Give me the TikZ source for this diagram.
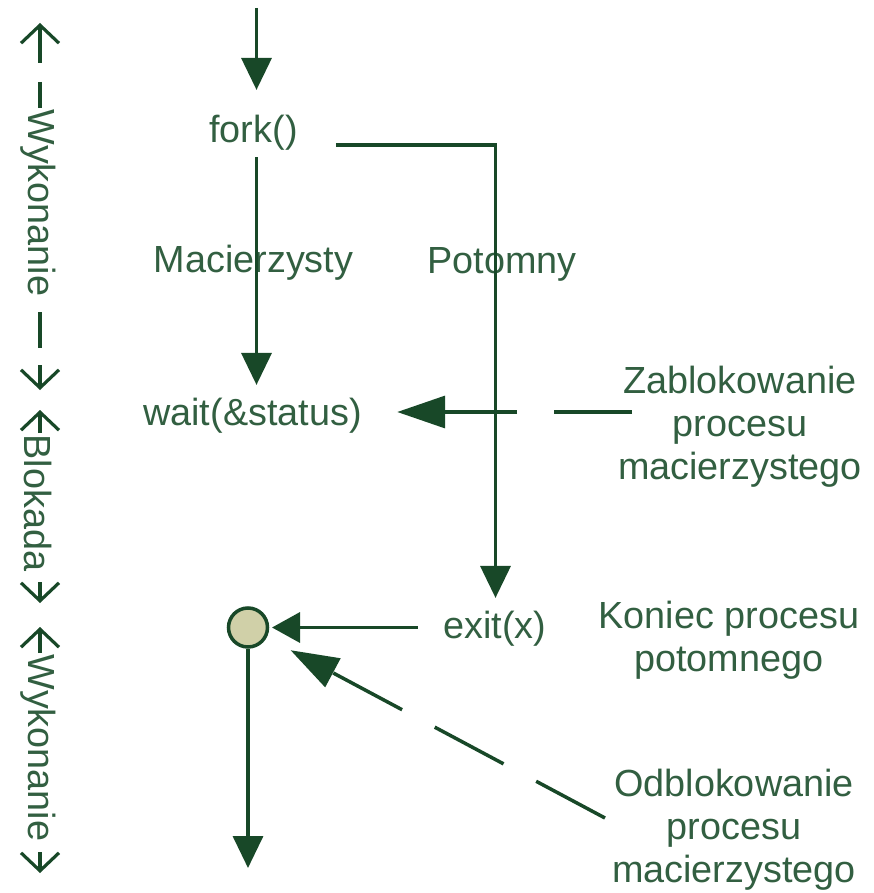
\documentclass[tikz,border=0pt]{standalone}
\usepackage{fontspec}
\setmainfont{Liberation Sans}
\usetikzlibrary{arrows.meta}
\definecolor{ink}{RGB}{24,72,40}
\definecolor{label}{RGB}{50,95,65}
\definecolor{joinfill}{RGB}{208,208,168}
\begin{document}
\begin{tikzpicture}[x=1pt,y=-1pt,
  txt/.style={font=\fontsize{37.8}{44}\selectfont, text=label, inner sep=0pt, anchor=base},
  sidetxt/.style={font=\fontsize{37.8}{44}\selectfont, text=label, inner sep=0pt, rotate=-90},
  conn/.style={draw=ink, line width=3.5pt},
  vtip/.style={-{Triangle[length=32pt,width=30pt]}},
  longtip/.style={-{Triangle[length=48pt,width=32pt]}},
  shorttip/.style={-{Triangle[length=28pt,width=30pt]}},
  dashline/.style={dash pattern=on 78pt off 37pt},
  side/.style={draw=ink, line width=3.2pt},
  sidetip/.style={-{Straight Barb[length=18pt,width=38pt]}}
]
\useasboundingbox (0,0) rectangle (873,893);

% ---- phase markers along the left edge ----
\draw[side, sidetip] (40,63) -- (40,23);
\draw[side] (40,82) -- (40,108);
\node[sidetxt] (wyk1) at (38,203) {Wykonanie};
\draw[side] (40,312) -- (40,348);
\draw[side, sidetip] (40,365) -- (40,390);

\draw[side, sidetip] (40,433) -- (40,410);
\node[sidetxt] (blk) at (38,503) {Blokada};
\draw[side, sidetip] (40,582) -- (40,603);

\draw[side, sidetip] (40,653) -- (40,627);
\node[sidetxt] (wyk2) at (38,748) {Wykonanie};
\draw[side, sidetip] (40,852) -- (40,873);

% ---- process labels ----
\node[txt] (fork) at (253.5,143) {fork()};
\node[txt] (mac)  at (253.5,272) {Macierzysty};
\node[txt] (pot)  at (502,273) {Potomny};
\node[txt] (wait) at (252.5,425) {wait(\&status)};
\node[txt] (exit) at (495,638) {exit(x)};

\node[txt] (zab1) at (740,393) {Zablokowanie};
\node[txt] (zab2) at (740,436) {procesu};
\node[txt] (zab3) at (740,479) {macierzystego};

\node[txt] (kon1) at (729,628) {Koniec procesu};
\node[txt] (kon2) at (729,671) {potomnego};

\node[txt] (odb1) at (734,796) {Odblokowanie};
\node[txt] (odb2) at (734,839) {procesu};
\node[txt] (odb3) at (734,882) {macierzystego};

\node[circle, draw=ink, fill=joinfill, line width=3.5pt, minimum size=39pt, inner sep=0pt] (join) at (248,627.5) {};

% ---- control flow ----
\coordinate (spine) at (256.5,0);
\coordinate (start) at (256.5,8);
\coordinate (branch) at (495.5,145);
\coordinate (zabstart) at (632,412);
\coordinate (odbstart) at (605,818);
\coordinate (endpt) at (248,868);

\draw[conn, vtip, shorten >=25.5pt] (start) -- (fork.north -| spine);
\draw[conn, vtip, shorten <=6pt, shorten >=12.5pt] (fork.south -| spine) -- (wait.north -| spine);
\draw[conn, vtip, shorten <=38pt, shorten >=12.5pt] (fork.east |- branch) -| (exit.north -| branch);
\draw[conn, shorttip, shorten <=25.6pt, shorten >=2.75pt] (exit.west |- join) -- (join);
\draw[conn, vtip] (join) -- (endpt);

% ---- annotation pointers ----
\draw[conn, dashline, longtip, shorten >=35.3pt] (zabstart) -- (wait.east |- zabstart);
\draw[conn, dashline, longtip, shorten >=27pt] (odbstart) -- (join);
\end{tikzpicture}
\end{document}
